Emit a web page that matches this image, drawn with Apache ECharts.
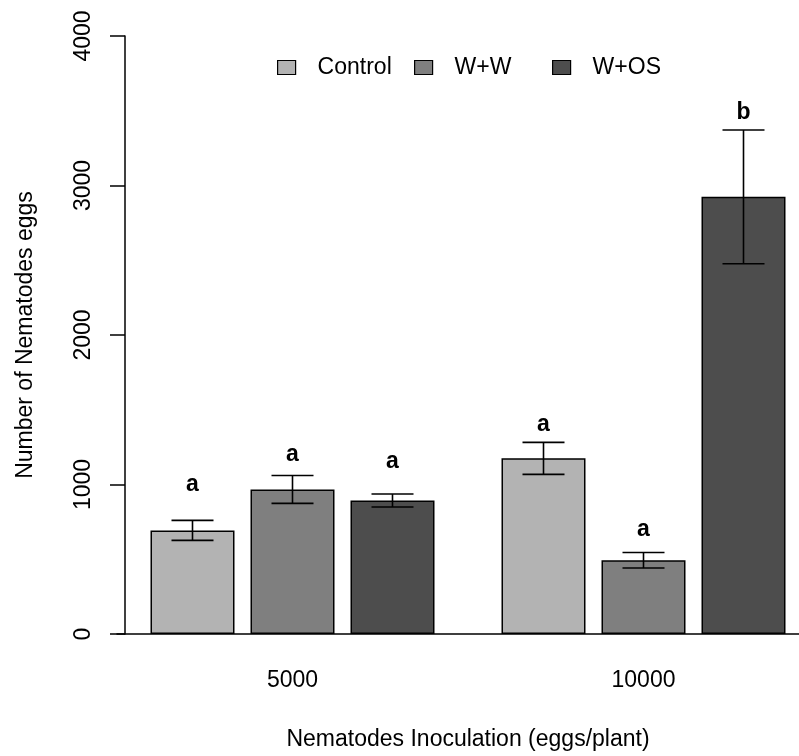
<!DOCTYPE html>
<html>
<head>
<meta charset="utf-8">
<title>Nematodes eggs</title>
<script src="https://cdn.jsdelivr.net/npm/echarts@6/dist/echarts.min.js"></script>
<style>
  html, body { margin: 0; padding: 0; background: #ffffff; overflow: hidden; }
  #main { width: 830px; height: 756px; }
</style>
</head>
<body>
<div id="main"></div>
<script>
// inoculation levels on the x axis
var categories = ['5000', '10000'];
var treatments = ['Control', 'W+W', 'W+OS'];
var yTicks = [0, 1000, 2000, 3000, 4000];

// mean number of eggs per treatment, one value per inoculation level
var controlMean = [693, 1175];
var wwMean = [967, 493];
var wosMean = [893, 2924];

// standard errors
var controlSe = [67, 107];
var wwSe = [93, 52];
var wosSe = [43, 447];

// significance letters and the height they are written at
var controlLetters = ['a', 'a'];
var wwLetters = ['a', 'a'];
var wosLetters = ['a', 'b'];
var controlLetterY = [1000, 1400];
var wwLetterY = [1200, 700];
var wosLetterY = [1150, 3485];

var colors = ['#b3b3b3', '#7f7f7f', '#4d4d4d'];
var BAR_W = 84;
var BAR_GAP = 16;
var FONT = '"Liberation Sans", Arial, Helvetica, sans-serif';

var means = [controlMean, wwMean, wosMean];
var ses = [controlSe, wwSe, wosSe];
var letters = [controlLetters, wwLetters, wosLetters];
var letterY = [controlLetterY, wwLetterY, wosLetterY];

var chart = echarts.init(document.getElementById('main'), null, { renderer: 'canvas' });

function errorRenderer(k) {
  return function (params, api) {
    var cat = api.value(0);
    var mid = api.coord([cat, api.value(1)]);
    var lo = api.coord([cat, api.value(1) - api.value(2)]);
    var hi = api.coord([cat, api.value(1) + api.value(2)]);
    var txt = api.coord([cat, api.value(3)]);
    var x = mid[0] + (k - 1) * (BAR_W + BAR_GAP);
    var half = BAR_W / 4;
    var st = { stroke: '#000', lineWidth: 1.6 };
    return {
      type: 'group',
      children: [
        { type: 'line', shape: { x1: x, y1: lo[1], x2: x, y2: hi[1] }, style: st },
        { type: 'line', shape: { x1: x - half, y1: lo[1], x2: x + half, y2: lo[1] }, style: st },
        { type: 'line', shape: { x1: x - half, y1: hi[1], x2: x + half, y2: hi[1] }, style: st },
        {
          type: 'text',
          x: x, y: txt[1],
          style: {
            text: letters[k][params.dataIndex],
            fill: '#000',
            font: 'bold 23px ' + FONT,
            textAlign: 'center',
            textVerticalAlign: 'middle'
          }
        }
      ]
    };
  };
}

var series = [];
treatments.forEach(function (name, k) {
  series.push({
    name: name,
    type: 'bar',
    data: means[k],
    barWidth: BAR_W,
    barGap: (BAR_GAP / BAR_W * 100).toFixed(2) + '%',
    itemStyle: { color: colors[k], borderColor: '#000', borderWidth: 1.5 },
    emphasis: { disabled: true },
    animation: false
  });
});
treatments.forEach(function (name, k) {
  series.push({
    name: 'err-' + name,
    type: 'custom',
    renderItem: errorRenderer(k),
    data: categories.map(function (c, i) {
      return [i, means[k][i], ses[k][i], letterY[k][i]];
    }),
    z: 5,
    silent: true,
    animation: false
  });
});

var legendLeft = [277, 414, 552];
var legends = treatments.map(function (name, k) {
  return {
    data: [name],
    left: legendLeft[k],
    top: 56,
    padding: 0,
    icon: 'rect',
    itemWidth: 18,
    itemHeight: 14,
    itemStyle: { borderColor: '#000', borderWidth: 1.2 },
    textStyle: { fontSize: 23, fontFamily: FONT, color: '#000', padding: [0, 0, 0, 17] },
    selectedMode: false
  };
});

var option = {
  backgroundColor: '#ffffff',
  animation: false,
  color: colors,
  legend: legends,
  grid: { left: 117, top: 36, width: 702, height: 600, containLabel: false },
  xAxis: {
    type: 'category',
    data: categories,
    name: 'Nematodes Inoculation (eggs/plant)',
    nameLocation: 'middle',
    nameGap: 94,
    nameTextStyle: { fontSize: 23, fontFamily: FONT, color: '#000' },
    axisLine: { lineStyle: { color: '#000', width: 1.5 } },
    axisTick: { show: false },
    axisLabel: { fontSize: 23, fontFamily: FONT, color: '#000', margin: 35 }
  },
  yAxis: {
    type: 'value',
    min: yTicks[0],
    max: yTicks[yTicks.length - 1],
    interval: yTicks[1] - yTicks[0],
    offset: -8,
    name: 'Number of Nematodes eggs',
    nameLocation: 'middle',
    nameRotate: 90,
    nameGap: 88,
    nameTextStyle: { fontSize: 23, fontFamily: FONT, color: '#000' },
    axisLine: { show: true, lineStyle: { color: '#000', width: 1.5 } },
    axisTick: { show: true, length: 15, lineStyle: { color: '#000', width: 1.5 } },
    axisLabel: {
      fontSize: 23, fontFamily: FONT, color: '#000', rotate: 90, margin: 30,
      formatter: function (v) { return String(v); }
    },
    splitLine: { show: false }
  },
  series: series
};

chart.setOption(option);
</script>
</body>
</html>
